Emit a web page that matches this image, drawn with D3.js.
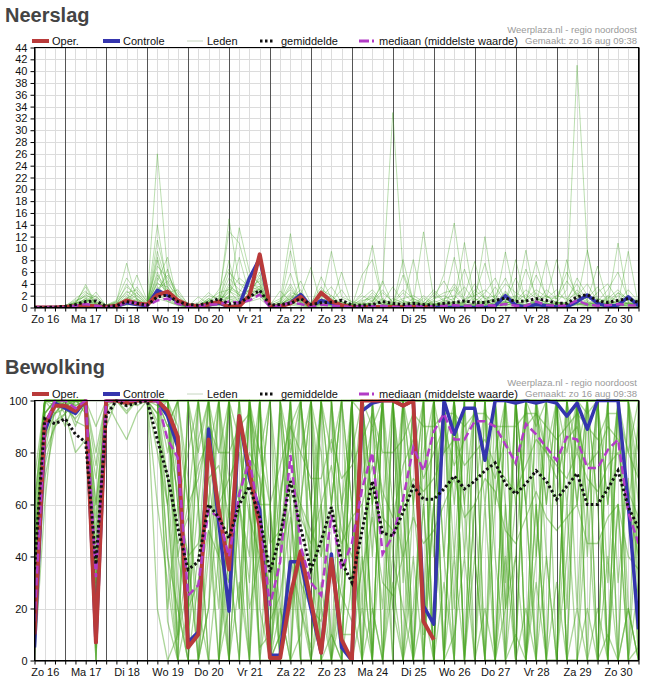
<!DOCTYPE html>
<html><head><meta charset="utf-8">
<script src="https://cdn.jsdelivr.net/npm/d3@7/dist/d3.min.js"></script>
<style>
html,body{margin:0;padding:0;background:#fff;}
svg{display:block;}
text{font-family:"Liberation Sans",Arial,sans-serif;}
</style></head><body>
<svg id="c" width="651" height="687"></svg>
<script>
// ---------- DATA ----------
// time axis: 6-hourly steps starting Zo 16 06:00 (step 0) to Ma 31 00:00 (step 59)
const dayLabels = ["Zo 16","Ma 17","Di 18","Wo 19","Do 20","Vr 21","Za 22","Zo 23","Ma 24","Di 25","Wo 26","Do 27","Vr 28","Za 29","Zo 30"];
const nSteps = 60;
const legendLabels = ["Oper.","Controle","Leden","gemiddelde","mediaan (middelste waarde)"];
const credit1 = "Weerplaza.nl - regio noordoost";
const credit2 = "Gemaakt: zo 16 aug 09:38";

// Neerslag (mm)
const rainTicks = d3.range(0, 45, 2);
const rainOper = [0,0,0, 0.1,0.2,0.3,0.2, 0.1,0.3,1.2,0.7, 0.5,2.1,2.7,1.2, 0.4,0.2,0.5,1.0, 0.1,0.2,2.0,9.0, 0.1,0.2,0.7,1.8, 0.1,2.5,1.0,0.4, 0.1,0.1,0.1,0.1, 0.1,0.1,0.1,0.1, 0.1];
const rainControle = [0,0,0, 0,0.1,0.2,0.1, 0,0.2,0.8,0.5, 0.3,2.9,2.1,1.0, 0.3,0.1,0.4,0.8, 0.1,0.3,5.0,8.3, 0.1,0.2,0.8,2.2, 0.2,1.2,0.7,0.3, 0.1,0,0,0, 0,0,0,0, 0,0,0,0, 0,0,0.3,2.0, 0.4,0.1,0.5,0.3, 0.1,0.1,1.0,2.1, 0.7,0.2,0.4,1.8, 0.3];
const rainMean = [0,0,0.05, 0.2,0.5,1.0,1.1, 0.2,0.3,1.0,0.7, 0.4,1.8,2.1,1.0, 0.5,0.4,0.8,1.5, 0.6,0.8,1.8,2.9, 0.4,0.5,0.7,1.5, 0.5,0.8,0.9,1.2, 0.4,0.4,0.5,1.0, 0.7,0.5,0.7,0.5, 0.4,0.7,0.85,1.1, 0.85,0.85,1.2,1.6, 1.0,1.1,1.5,1.2, 0.7,0.7,1.8,2.2, 1.1,0.85,1.2,1.5, 0.85];
const rainMedian = [0,0,0, 0,0.3,0.6,0.3, 0,0.2,0.8,0.8, 0.3,1.2,1.5,0.6, 0.1,0.2,0.5,0.5, 1.0,0.8,1.2,2.2, 0.1,0.3,0.8,0.6, 0.1,0.5,0.3,0.2, 0.1,0.2,0.2,0.3, 0.1,0.2,0.3,0.2, 0.2,0.3,0.4,0.3, 0.3,0.4,0.3,0.6, 0.3,0.3,1.0,0.4, 0.3,0.4,1.2,0.5, 0.3,0.4,0.6,0.4, 0.3];
const rainM01 = [0,0,0, 0.2,1.5,2.8,0.5, 0.1,0.3,1.2,2.0, 0.5,14,3.0,0.8, 0.2,0.1,0.5,1.0, 15,4.0,2.5,5.0, 0.2,0.5,1.5,3.0, 0.1,2.5,0.5,0.2, 0.1,0.3,1.2,0.5, 0.3,0.2,1.0,0.5, 0.8,1.5,2.0,0.6, 0.3,1.2,0.4,2.8, 0.6,0.2,1.5,0.8, 0.2,0.5,2.0,4.0, 1.0,0.3,2.5,1.0, 0.5];
const rainM02 = [0,0,0, 0,0.5,1.2,1.0, 0,0.2,0.8,3.5, 1.0,26,6,1.5, 0.1,0.3,1.2,2.5, 3.0,0.8,4.0,3.5, 0.1,0.2,2.0,1.0, 0.3,1.0,2.0,0.4, 0.2,0.5,0.3,1.5, 0.5,0.2,0.4,2.0, 0.6,0.3,3.5,1.2, 0.4,0.8,1.5,0.3, 1.0,2.2,0.5,0.2, 0.8,0.3,1.2,0.5, 0.3,1.8,0.5,0.3, 0.2];
const rainM03 = [0,0,0, 0.1,0.8,3.5,0.4, 0.2,1.0,7.5,1.2, 0.4,8.5,2.0,0.6, 0.2,0.5,0.4,0.8, 2.0,13.5,6.0,4.0, 0.3,0.7,3.5,0.6, 0.2,1.5,1.0,3.0, 0.5,0.2,1.0,4.0, 33,6,1.2,0.4, 0.3,0.5,0.2,0.8, 1.5,0.6,0.3,1.0, 0.4,1.2,2.5,0.6, 0.3,0.2,0.5,0.9, 0.4,0.3,1.2,0.6, 0.4];
const rainM04 = [0,0,0, 0.2,0.4,1.0,2.0, 0.1,0.2,0.6,1.5, 0.5,5.0,2.5,3.0, 0.5,0.2,1.5,0.6, 4.0,2.0,3.0,6.0, 0.2,1.2,12.5,1.5, 0.4,0.6,0.3,0.8, 0.3,1.0,2.0,0.5, 0.6,2.5,0.8,0.3, 1.2,0.4,1.0,0.6, 0.5,2.0,0.8,1.4, 0.6,0.5,1.0,2.0, 0.8,3.0,41,9.7, 1.5,0.6,2.0,0.5, 0.8];
const rainM05 = [0,0,0, 0.3,1.2,1.8,0.8, 0.4,1.0,3.5,2.0, 0.6,3.0,4.5,1.0, 0.3,0.6,2.0,1.5, 12.9,10.9,4.5,3.0, 0.5,0.4,9.6,2.0, 6.8,0.5,1.0,0.4, 0.2,5.5,8.1,1.0, 0.4,0.6,8.1,0.5, 1.0,5.7,14.3,2.0, 7.8,1.0,0.6,9.4, 1.2,0.4,0.8,0.6, 1.0,0.5,1.5,0.8, 0.6,2.0,1.0,3.0, 1.0];
const rainM06 = [0,0,0, 0.1,0.6,2.2,0.9, 0.2,0.5,2.2,1.0, 0.3,6.0,1.5,0.5, 0.1,0.2,0.6,1.2, 2.5,5.0,3.5,4.5, 0.1,0.3,1.2,2.5, 0.3,5.2,1.5,0.6, 0.4,0.8,0.6,2.5, 1.0,0.5,0.3,1.6, 0.4,1.2,0.8,0.5, 2.0,7.5,1.0,0.6, 8.1,0.8,0.4,1.2, 0.5,8.1,0.6,0.4, 1.2,0.5,10.9,0.8, 0.3];
const rainM07 = [0,0,0, 0,0.3,0.6,0.3, 0,0.1,0.5,0.8, 0.2,2.5,1.0,0.4, 0,0.1,0.3,0.5, 1.0,0.8,1.2,2.0, 0,0.1,0.6,0.4, 0,0.5,0.2,0.1, 0,0.1,0.2,0.3, 0.1,0,0.2,0.1, 0.2,0.3,0.5,0.2, 0.1,0.4,0.2,0.6, 0.3,0.1,0.2,0.4, 0.1,0.6,0.8,0.3, 0.2,0.1,0.5,0.2, 0.1];
const rainM08 = [0,0,0, 0.1,1.0,2.0,1.5, 0.3,0.6,1.5,2.5, 0.8,4.0,3.5,1.2, 0.4,0.3,1.0,0.8, 3.5,2.5,5.5,4.0, 0.3,0.6,2.5,2.0, 0.5,3.0,2.0,0.5, 0.3,1.5,3.0,1.0, 0.5,1.2,0.6,0.4, 2.5,1.0,1.5,3.5, 1.0,2.5,5.0,1.2, 2.0,1.0,7.8,1.5, 8.1,1.2,2.5,0.6, 1.5,1.0,0.8,2.0, 1.0];
const rainM09 = [0,0,0, 0.2,0.6,1.5,0.3, 0.1,0.4,4.0,1.5, 0.3,11.4,4.0,2.0, 0.3,0.5,0.8,2.0, 1.5,0.6,2.5,3.0, 0.2,0.4,1.0,1.5, 0.2,0.6,0.4,1.0, 0.4,0.3,0.5,0.8, 0.2,8.1,1.0,0.3, 0.5,0.8,0.4,1.0, 0.6,0.3,2.0,0.8, 1.2,9.7,0.6,0.4, 0.9,0.5,1.0,9.7, 0.5,0.8,0.4,0.6, 0.3];
const rainM10 = [0,0,0, 0.1,0.5,3.9,0.6, 0.2,0.3,1.0,0.6, 0.2,2.0,1.2,0.5, 0.1,0.2,0.4,0.6, 2.0,1.5,2.0,2.5, 0.1,0.2,0.8,0.5, 0.1,0.4,0.6,0.2, 0.1,0.2,0.4,0.2, 0.1,0.3,0.5,0.2, 0.3,0.6,0.3,0.4, 0.2,0.5,0.3,0.4, 0.5,0.3,0.6,0.2, 0.4,0.3,0.5,0.3, 0.2,0.4,0.3,0.5, 0.2];
const rainM11 = [0,0,0, 0.3,0.8,1.0,1.2, 0.3,0.8,2.5,3.0, 1.0,7.0,5.0,2.0, 0.5,0.4,1.5,0.8, 5.0,3.0,2.0,5.5, 0.4,1.0,4.0,1.0, 0.6,2.0,0.8,1.5, 0.6,1.2,1.5,0.6, 1.5,0.8,0.4,0.6, 1.5,2.0,1.0,0.8, 3.0,1.5,0.8,2.5, 1.0,3.0,1.5,0.8, 2.0,1.5,4.0,1.0, 0.8,1.5,3.0,1.2, 0.8];
const rainM12 = [0,0,0, 0.1,0.4,0.8,0.5, 0.1,0.2,0.8,1.2, 0.3,4.5,8.5,1.0, 0.2,0.3,1.2,0.5, 1.8,1.2,3.0,2.0, 0.2,0.5,1.5,0.8, 0.2,1.2,0.5,0.3, 0.2,0.6,0.4,0.5, 0.3,0.4,1.5,0.8, 0.6,0.4,0.8,0.5, 0.4,0.8,0.5,1.0, 0.6,0.4,1.2,0.5, 0.6,0.4,0.8,0.6, 0.5,0.6,0.4,0.8, 0.4];
const rainM13 = [0,0,0, 0,0.2,0.5,0.2, 0,0.1,0.4,0.6, 0.1,1.5,1.0,0.3, 0,0.1,0.2,0.3, 1.2,0.6,1.0,1.5, 0,0.1,0.4,0.2, 0.1,0.2,0.1,0.1, 0,0.1,0.1,0.2, 0,0.1,0.1,0.1, 0.1,0.1,0.2,0.1, 0.1,0.2,0.1,0.2, 0.1,0.1,0.2,0.1, 0.1,0.2,0.3,0.1, 0.1,0.1,0.2,0.1, 0.1];
const rainM14 = [0,0,0, 0.2,0.9,2.5,1.8, 0.4,1.2,5.0,2.5, 0.6,5.5,3.0,1.5, 0.5,0.8,2.5,1.2, 6.0,4.0,3.5,3.0, 0.6,1.5,3.0,1.2, 0.8,3.5,1.2,0.8, 0.5,2.0,1.0,3.0, 0.8,1.5,2.0,1.0, 3.0,1.2,4.0,1.5, 2.0,3.0,1.5,4.0, 2.5,1.5,3.0,1.8, 1.5,4.5,2.0,1.5, 3.5,1.0,2.5,1.5, 1.0];
const rainM15 = [0,0,0, 0.1,0.3,1.2,0.7, 0.2,0.4,1.8,0.9, 0.4,3.5,2.0,0.8, 0.2,0.3,0.9,0.7, 2.8,1.8,2.6,3.2, 0.2,0.4,1.8,1.2, 0.3,1.0,0.8,0.4, 0.2,0.4,0.6,0.8, 0.4,0.3,0.6,0.4, 0.5,0.8,0.6,0.4, 0.6,1.0,0.5,0.8, 0.8,0.5,0.9,0.6, 0.5,0.9,1.2,0.6, 0.6,0.8,0.5,0.7, 0.4];
const rainM16 = [0,0,0, 0.1,0.5,0.9,0.4, 0.1,0.3,0.9,0.6, 0.2,8.0,1.8,0.6, 0.1,0.2,0.5,0.4, 1.5,1.0,1.8,2.2, 0.1,0.3,0.9,0.6, 0.2,0.6,0.3,0.2, 0.1,0.3,0.3,0.3, 0.2,0.2,0.3,0.3, 0.3,0.4,0.3,0.3, 0.3,0.5,0.3,0.5, 0.4,0.3,0.5,0.3, 0.3,0.5,0.6,0.3, 0.3,0.4,0.3,0.4, 0.2];
const rainM17 = [0,0,0, 0.2,0.7,1.4,0.6, 0.2,0.6,2.8,1.4, 0.5,4.2,2.6,1.1, 0.3,0.4,1.1,0.9, 3.2,2.2,2.8,3.6, 0.3,0.6,2.2,1.4, 0.4,1.8,3.5,0.9, 0.5,2.5,10.5,1.2, 0.8,3.0,1.5,0.6, 2.0,4.5,1.2,6.5, 1.5,0.8,3.5,1.0, 5.0,1.2,0.8,3.0, 1.5,6.0,2.0,1.0, 2.5,4.0,1.2,0.8, 0.6];
const rainM18 = [0,0,0, 0.1,0.4,0.7,2.6, 0.3,0.8,1.1,5.5, 1.2,3.0,5.5,2.5, 0.6,0.4,0.7,3.0, 6.5,2.0,1.5,2.8, 0.4,2.8,1.0,4.5, 0.6,0.8,9.5,1.8, 1.0,0.6,2.5,0.8, 3.5,1.0,0.8,12.8, 1.5,2.5,3.0,1.0, 4.0,1.5,2.0,5.0, 1.0,6.5,2.0,1.5, 3.0,1.0,5.0,2.0, 1.0,3.0,6.0,1.5, 1.0];
const rainM19 = [0,0,0, 0,0.2,1.6,0.5, 0.1,0.5,1.6,0.7, 0.3,2.2,6.5,0.9, 0.2,1.8,0.6,0.6, 8.0,1.0,1.7,2.6, 0.2,0.8,5.8,0.7, 0.2,0.7,0.5,0.4, 0.3,0.5,1.8,0.4, 0.5,5.5,0.6,0.4, 0.6,1.0,8.5,0.8, 2.5,0.6,1.2,0.9, 0.6,1.2,5.5,2.0, 0.7,0.9,3.0,1.2, 7.0,0.9,1.0,0.6, 0.5];
const rainM20 = [0,0,0, 0.1,0.3,0.8,0.4, 0.1,0.4,1.3,1.0, 0.4,9.5,3.5,0.7, 0.2,0.3,0.8,0.6, 1.7,8.5,2.2,3.1, 0.2,0.5,1.4,0.9, 0.3,0.9,0.6,6.0, 0.3,0.5,0.7,4.5, 0.4,0.9,0.5,0.6, 0.4,0.6,1.0,11.0, 0.8,12.0,0.7,0.6, 1.8,0.7,0.5,8.0, 0.9,0.6,0.8,0.5, 0.8,1.2,0.6,9.5, 0.4];
const rainMembers = [rainM01,rainM02,rainM03,rainM04,rainM05,rainM06,rainM07,rainM08,rainM09,rainM10,rainM11,rainM12,rainM13,rainM14,rainM15,rainM16,rainM17,rainM18,rainM19,rainM20];

// Bewolking (%)
const cloudTicks = [0,20,40,60,80,100];
const cloudOper = [10,91,98, 98,96,100,7, 100,100,99,100, 100,100,96,86, 5,10,85,58, 35,94,73,51, 1,1,25,42, 23,3,39,8, 0,100,100,100, 100,98,100,15, 8];
const cloudControle = [5,88,99, 97,95,100,7, 100,100,100,100, 100,100,94,82, 7,11,89,53, 19,94,70,58, 2,2,38,38, 20,3,41,5, 0,96,99,100, 100,98,100,21, 14,100,87,97, 97,77,100,100, 99,100,99,100, 99,94,99,89, 100,100,100,60, 12];
const cloudMean = [35,93,91, 93,87,84,37, 94,100,98,99, 100,85,71,51, 35,38,60,55, 47,60,67,55, 34,48,69,51, 35,46,59,38, 30,50,69,49, 48,57,67,62, 62,66,71,66, 69,73,76,68, 64,68,73,69, 62,67,72,60, 60,66,73,59, 51];
const cloudMedian = [15,90,100, 100,97,100,32, 100,100,100,100, 100,100,85,78, 25,29,58,55, 40,64,77,55, 21,38,79,44, 30,25,56,35, 45,66,80,41, 48,62,82,73, 88,95,85,85, 92,92,90,83, 76,91,87,82, 77,86,85,74, 74,81,85,57, 45];
const cloudB01 = [20,95,100, 100,98,100,10, 100,100,100,100, 100,90,60,8, 30,100,70,40, 100,85,60,5, 10,95,40,20, 5,60,10,0, 100,100,90,100, 100,30,100,10, 60,100,20,100, 100,0,80,100, 5,100,100,60, 100,0,100,95, 100,100,30,70, 0];
const cloudB02 = [8,100,100, 98,100,97,25, 100,100,100,98, 100,100,15,0, 20,85,100,60, 30,100,100,70, 0,40,90,100, 60,20,0,40, 100,95,0,100, 60,100,0,80, 100,40,100,60, 0,100,100,30, 100,60,0,100, 100,20,100,100, 60,0,100,100, 40];
const cloudB03 = [40,90,95, 100,92,90,30, 95,100,100,100, 100,95,100,60, 10,40,100,100, 70,20,100,0, 30,100,60,0, 100,80,40,0, 30,100,100,60, 0,100,100,0, 100,80,100,0, 60,100,0,100, 100,100,60,0, 0,100,100,40, 100,100,0,100, 100];
const cloudB04 = [12,100,100, 100,100,100,0, 100,100,100,100, 100,60,30,0, 0,30,60,20, 100,40,0,60, 100,60,0,10, 40,100,0,30, 100,20,100,100, 100,0,60,100, 100,100,0,100, 100,60,100,20, 100,0,40,100, 60,100,100,0, 100,30,100,0, 60];
const cloudB05 = [30,85,100, 90,100,100,40, 100,100,98,100, 100,100,90,100, 70,0,20,100, 100,60,30,100, 60,0,40,100, 100,40,100,0, 0,100,60,100, 40,100,100,0, 0,100,100,100, 100,0,100,60, 0,100,100,100, 100,0,0,100, 100,100,0,100, 30];
const cloudB06 = [5,100,98, 100,95,100,5, 100,100,100,100, 100,100,100,85, 5,10,80,100, 40,0,100,100, 0,10,100,30, 0,100,80,100, 60,0,100,0, 100,60,0,100, 100,0,100,100, 100,100,0,100, 100,60,0,100, 100,100,100,60, 0,100,100,80, 100];
const cloudB07 = [50,100,100, 100,100,100,20, 100,100,100,100, 100,100,40,20, 0,100,100,30, 0,60,100,40, 10,100,20,60, 100,0,60,100, 100,0,100,100, 0,100,60,100, 0,100,100,0, 100,100,100,0, 100,100,100,0, 100,60,100,100, 0,100,100,100, 70];
const cloudB08 = [15,70,90, 95,80,85,35, 90,100,100,100, 100,98,100,40, 60,100,100,60, 100,100,70,100, 0,20,0,100, 30,100,100,0, 100,40,0,100, 100,40,100,60, 100,0,100,100, 0,100,60,100, 60,100,100,100, 100,80,100,100, 100,60,100,20, 0];
const cloudB09 = [25,100,100, 100,100,100,60, 100,100,100,100, 100,100,100,0, 100,60,0,0, 100,100,0,100, 100,0,100,0, 0,20,100,60, 30,100,0,100, 100,0,100,100, 40,100,0,100, 100,100,100,100, 100,0,100,40, 0,100,100,60, 100,0,100,100, 100];
const cloudB10 = [60,100,100, 98,100,100,80, 100,100,100,100, 100,20,0,10, 40,0,100,100, 0,0,60,0, 60,0,20,40, 0,0,40,10, 10,60,20,0, 40,20,0,60, 0,30,0,100, 40,0,60,100, 0,20,0,40, 0,40,100,0, 20,0,60,0, 30];
const cloudB11 = [35,80,90, 100,100,100,15, 100,100,95,100, 100,100,100,30, 0,0,50,0, 20,60,20,40, 40,0,0,0, 0,30,0,0, 0,40,0,60, 20,0,40,0, 60,0,40,0, 0,60,0,20, 40,0,60,0, 30,0,0,20, 0,40,0,20, 0];
const cloudB12 = [10,100,100, 100,100,100,0, 100,100,100,100, 100,100,70,10, 100,100,60,100, 100,100,100,100, 20,100,100,100, 100,60,0,0, 100,100,100,100, 100,100,100,100, 100,100,100,100, 100,100,100,100, 100,100,100,100, 100,100,100,100, 100,100,100,100, 100];
const cloudB13 = [45,95,100, 100,100,95,70, 100,100,100,100, 100,100,80,100, 100,60,0,40, 100,100,100,60, 100,100,60,100, 100,100,100,60, 100,100,100,60, 100,100,80,100, 100,100,60,100, 100,100,100,100, 100,100,90,100, 100,100,80,100, 100,100,100,60, 90];
const cloudB14 = [20,90,100, 100,90,100,10, 100,100,100,100, 100,95,40,0, 0,0,20,60, 0,30,0,0, 0,10,40,0, 0,0,10,0, 0,20,0,0, 30,0,0,20, 0,0,10,40, 0,20,0,0, 10,0,30,0, 0,0,20,0, 0,10,0,0, 5];
const cloudB15 = [55,100,100, 100,100,100,90, 100,100,100,100, 100,100,100,100, 100,100,100,100, 60,100,100,100, 100,100,100,100, 100,100,60,100, 100,100,100,100, 100,100,100,100, 100,100,100,60, 100,100,100,100, 100,100,100,100, 100,100,100,100, 100,100,100,100, 80];
const cloudB16 = [30,100,95, 100,100,100,100, 100,100,100,100, 100,100,100,60, 40,0,40,100, 100,100,100,100, 100,100,100,60, 100,100,100,100, 20,0,60,100, 100,60,0,0, 60,100,100,100, 100,100,40,0, 40,100,100,100, 100,100,60,100, 100,100,100,100, 60];
const cloudB17 = [0,60,100, 100,100,100,30, 100,100,100,100, 100,80,60,100, 100,100,100,80, 100,100,100,0, 0,60,100,100, 60,0,0,100, 60,100,100,0, 100,100,100,100, 0,100,100,0, 100,100,0,100, 100,0,100,100, 100,0,100,100, 0,100,100,100, 0];
const cloudB18 = [18,100,100, 100,100,100,50, 100,100,100,100, 100,100,100,40, 20,60,100,100, 100,60,40,100, 0,60,100,20, 0,100,60,100, 100,100,40,100, 100,100,0,100, 100,100,100,40, 100,100,100,100, 100,100,100,60, 100,100,60,100, 100,60,100,100, 20];
const cloudB19 = [40,100,100, 95,100,100,25, 100,100,100,100, 100,100,100,100, 60,20,0,0, 60,100,100,20, 0,0,0,60, 40,0,0,20, 60,0,0,0, 60,40,0,0, 100,40,0,0, 60,0,0,40, 0,0,60,0, 100,0,0,60, 100,0,0,20, 0];
const cloudB20 = [70,100,100, 100,100,100,60, 100,100,100,100, 100,100,90,100, 100,100,100,100, 100,100,0,100, 100,100,100,100, 40,100,100,100, 100,100,100,100, 100,100,100,100, 100,100,100,100, 100,100,100,100, 100,100,100,100, 100,100,100,100, 100,100,100,100, 100];
const cloudB21 = [10,80,100, 100,100,100,0, 100,100,100,100, 100,100,60,0, 100,100,100,40, 0,60,100,100, 100,40,100,100, 60,100,100,40, 100,100,0,100, 20,100,100,100, 0,100,40,100, 100,100,100,0, 100,100,40,100, 0,100,100,100, 60,100,100,0, 100];
const cloudB22 = [25,100,100, 100,100,100,35, 100,100,100,100, 100,100,20,60, 80,100,60,0, 60,20,100,60, 60,20,0,80, 100,0,0,60, 80,100,60,20, 100,100,60,20, 100,0,100,100, 100,100,100,20, 60,100,100,80, 100,100,20,100, 100,0,100,60, 40];
const cloudB23 = [5,100,100, 100,100,100,10, 100,100,100,100, 100,100,100,20, 0,0,0,0, 40,0,100,100, 0,40,60,0, 0,0,0,0, 100,0,20,0, 0,0,20,60, 0,0,100,0, 40,0,0,60, 0,100,0,0, 0,60,0,0, 0,0,60,0, 0];
const cloudB24 = [35,100,100, 100,98,100,20, 100,100,100,100, 100,100,100,100, 100,80,100,100, 100,100,100,80, 100,100,80,100, 100,100,100,100, 100,100,60,100, 100,100,100,100, 100,100,100,100, 100,100,100,100, 100,60,100,100, 100,100,100,100, 100,100,100,100, 100];
const cloudB25 = [30,85,95, 97,93,98,45, 98,100,96,100, 100,92,70,45, 55,75,85,60, 70,80,55,40, 30,65,85,55, 45,60,75,50, 40,70,90,65, 55,75,85,70, 80,90,75,85, 95,80,70,85, 75,90,95,80, 70,85,90,75, 80,90,85,65, 55];
const cloudB26 = [45,95,100, 100,100,97,55, 100,100,100,100, 100,100,85,65, 40,45,70,75, 55,65,80,70, 45,50,70,60, 50,40,60,45, 55,60,75,55, 50,60,70,65, 70,80,85,75, 80,85,75,70, 65,75,85,80, 75,70,80,70, 65,75,80,60, 50];
const cloudB27 = [20,75,92, 95,100,100,20, 100,92,85,95, 100,100,100,70, 20,30,50,40, 30,60,70,35, 15,25,55,30, 20,15,40,25, 15,35,55,30, 25,40,55,45, 50,60,70,55, 60,70,65,50, 45,55,65,55, 50,55,60,45, 45,55,60,40, 35];
const cloudB28 = [60,100,100, 100,100,100,75, 100,100,100,100, 100,100,100,90, 60,70,90,80, 80,90,95,80, 60,75,90,80, 70,70,85,70, 75,85,95,80, 80,85,95,90, 90,95,95,90, 95,95,90,90, 90,95,95,90, 85,90,95,90, 85,95,95,80, 70];
const cloudMembers = [cloudB01,cloudB02,cloudB03,cloudB04,cloudB05,cloudB06,cloudB07,cloudB08,cloudB09,cloudB10,cloudB11,cloudB12,cloudB13,cloudB14,cloudB15,cloudB16,cloudB17,cloudB18,cloudB19,cloudB20,cloudB21,cloudB22,cloudB23,cloudB24,cloudB25,cloudB26,cloudB27,cloudB28];

// ---------- DRAWING ----------
const svg = d3.select("#c");
const x = d3.scaleLinear().domain([0, nSteps - 1]).range([34.5, 638.5]);
const COL = {oper:"#b93a3a", ctrl:"#3535ae", mean:"#111111", med:"#b23bc6"};

function drawChart(cfg) {
  const g = svg.append("g");
  const y = d3.scaleLinear().domain([0, cfg.max]).range([cfg.bottom, cfg.top]);
  const x0 = x.range()[0], x1 = x.range()[1];
  const clipId = "clip" + cfg.id;
  svg.append("clipPath").attr("id", clipId).append("rect")
    .attr("x", x0).attr("y", cfg.top - 1).attr("width", x1 - x0).attr("height", cfg.bottom - cfg.top + 1);

  // grid
  g.append("g").selectAll("line").data(d3.range(nSteps)).join("line")
    .attr("x1", d => Math.round(x(d)) + 0.5).attr("x2", d => Math.round(x(d)) + 0.5)
    .attr("y1", cfg.top).attr("y2", cfg.bottom).attr("stroke", "#dcdcdc").attr("stroke-width", 1);
  g.append("g").selectAll("line").data(cfg.ticks).join("line")
    .attr("x1", x0).attr("x2", x1)
    .attr("y1", d => Math.round(y(d)) + 0.5).attr("y2", d => Math.round(y(d)) + 0.5)
    .attr("stroke", "#dcdcdc").attr("stroke-width", 1);
  // day separators
  g.append("g").selectAll("line").data(d3.range(3, nSteps, 4)).join("line")
    .attr("x1", d => Math.round(x(d)) + 0.5).attr("x2", d => Math.round(x(d)) + 0.5)
    .attr("y1", cfg.top).attr("y2", cfg.bottom).attr("stroke", "#555").attr("stroke-width", 1);

  const plot = g.append("g").attr("clip-path", `url(#${clipId})`);
  const line = d3.line().x((d, i) => x(i)).y(d => y(d));

  // members
  plot.append("g").selectAll("path").data(cfg.members).join("path")
    .attr("d", line).attr("fill", "none")
    .attr("stroke", cfg.memberColor).attr("stroke-width", cfg.memberWidth)
    .attr("stroke-linejoin", "round");

  plot.append("path").attr("d", line(cfg.ctrl)).attr("fill", "none")
    .attr("stroke", COL.ctrl).attr("stroke-width", 3.5).attr("stroke-linejoin", "round");
  plot.append("path").attr("d", line(cfg.oper)).attr("fill", "none")
    .attr("stroke", COL.oper).attr("stroke-width", 4).attr("stroke-linejoin", "round");
  plot.append("path").attr("d", line(cfg.median)).attr("fill", "none")
    .attr("stroke", COL.med).attr("stroke-width", 2.5).attr("stroke-dasharray", "8,4");
  plot.append("path").attr("d", line(cfg.mean)).attr("fill", "none")
    .attr("stroke", COL.mean).attr("stroke-width", 3).attr("stroke-dasharray", "2.5,2.5");

  // axes
  const ya = g.append("g").attr("transform", `translate(${x0},0)`)
    .call(d3.axisLeft(y).tickValues(cfg.ticks).tickSize(4).tickSizeOuter(0).tickPadding(3));
  ya.select(".domain").attr("stroke", "#000");
  ya.selectAll(".tick line").attr("stroke", "#000");
  ya.selectAll("text").attr("font-size", 11).attr("font-family", "Liberation Sans, Arial, sans-serif").attr("fill", "#111");

  const xa = g.append("g").attr("transform", `translate(0,${cfg.bottom})`)
    .call(d3.axisBottom(x).tickValues(d3.range(nSteps)).tickSize(4).tickSizeOuter(0).tickFormat(""));
  xa.select(".domain").attr("stroke", "#000");
  xa.selectAll(".tick line").attr("stroke", "#000");
  const xl = g.append("g").attr("transform", `translate(0,${cfg.bottom})`)
    .call(d3.axisBottom(x).tickValues(dayLabels.map((d, k) => 1 + 4 * k)).tickSize(0).tickPadding(8)
      .tickFormat((d, k) => dayLabels[k]));
  xl.select(".domain").remove();
  xl.selectAll("text").attr("font-size", 11).attr("font-family", "Liberation Sans, Arial, sans-serif").attr("fill", "#111");

  // border
  g.append("rect").attr("x", x0).attr("y", cfg.top).attr("width", x1 - x0).attr("height", cfg.bottom - cfg.top)
    .attr("fill", "none").attr("stroke", "#000").attr("stroke-width", 1);

  // title
  g.append("text").attr("x", 5).attr("y", cfg.titleY).text(cfg.title)
    .attr("font-family", "Roboto, Liberation Sans, sans-serif").attr("font-weight", "bold")
    .attr("font-size", 20).attr("fill", "#444");

  // legend
  const ly = cfg.top - 6.5, ty = cfg.top - 3;
  const leg = g.append("g");
  const items = [
    {x1: 32, x2: 49, tx: 52, stroke: COL.oper, w: 4, dash: null},
    {x1: 103, x2: 120, tx: 123, stroke: COL.ctrl, w: 4, dash: null},
    {x1: 187, x2: 203, tx: 207, stroke: "#c6d6c0", w: 1, dash: null},
    {x1: 260, x2: 274, tx: 281, stroke: COL.mean, w: 3, dash: "2.5,2.5"},
    {x1: 359, x2: 375, tx: 379, stroke: COL.med, w: 3, dash: "10,3,2,10"}
  ];
  items.forEach((it, i) => {
    leg.append("line").attr("x1", it.x1).attr("x2", it.x2).attr("y1", ly).attr("y2", ly)
      .attr("stroke", it.stroke).attr("stroke-width", it.w).attr("stroke-dasharray", it.dash);
    leg.append("text").attr("x", it.tx).attr("y", ty).text(legendLabels[i])
      .attr("font-size", 11).attr("fill", "#111");
  });
  g.append("text").attr("x", 637).attr("y", cfg.top - 14.5).attr("text-anchor", "end")
    .attr("font-size", 9.5).attr("fill", "#9a9a9a").text(credit1);
  g.append("text").attr("x", 637).attr("y", cfg.top - 3.5).attr("text-anchor", "end")
    .attr("font-size", 9.5).attr("fill", "#9a9a9a").text(credit2);
}

drawChart({id: 1, title: "Neerslag", titleY: 22, top: 47.5, bottom: 307.5, max: 44, ticks: rainTicks,
  members: rainMembers, oper: rainOper, ctrl: rainControle, mean: rainMean, median: rainMedian,
  memberColor: "rgba(70,165,40,0.36)", memberWidth: 1});
drawChart({id: 2, title: "Bewolking", titleY: 373.5, top: 400.5, bottom: 660.5, max: 100, ticks: cloudTicks,
  members: cloudMembers, oper: cloudOper, ctrl: cloudControle, mean: cloudMean, median: cloudMedian,
  memberColor: "rgba(70,165,30,0.45)", memberWidth: 1.3});
</script>
</body></html>
